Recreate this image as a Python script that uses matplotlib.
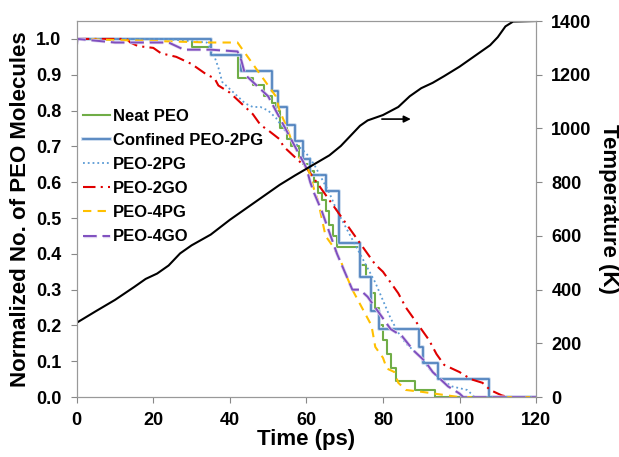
import matplotlib.pyplot as plt
import matplotlib.patheffects as pe

plt.rcParams['font.family'] = ['Liberation Sans', 'DejaVu Sans']
plt.rcParams['font.weight'] = 'bold'

# Neat PEO (step)
neat_t = [0, 30, 35, 42, 46, 49, 51, 52, 53, 55, 56, 58, 59, 61, 62, 63, 64, 65, 66, 67, 68,
          74, 75.5, 77, 78, 79, 80, 81, 82, 83.5, 88.5, 93.7, 120]
neat_y = [1.0, 0.978, 0.955, 0.89, 0.87, 0.84, 0.82, 0.80, 0.75, 0.72, 0.70, 0.67, 0.65, 0.63, 0.60,
          0.57, 0.55, 0.52, 0.48, 0.45, 0.42, 0.37, 0.335, 0.29, 0.25, 0.20, 0.16, 0.12, 0.08, 0.045,
          0.02, 0.0, 0.0]

# Confined PEO-2PG (step)
conf_t = [0, 35, 43, 51, 52.5, 55, 57, 59, 61, 65, 68.5, 74, 77, 79, 89.4, 90.5, 94.5, 107.6, 120]
conf_y = [1.0, 0.955, 0.91, 0.855, 0.81, 0.76, 0.715, 0.665, 0.62, 0.575, 0.43, 0.335, 0.24, 0.19,
          0.14, 0.095, 0.05, 0.0, 0.0]

# PEO-2PG
pg2_t = [0, 23, 34, 35, 36, 37, 38, 40, 42, 44, 46, 48, 50, 52, 54, 56, 58, 60, 62, 64, 66, 68, 70,
         72, 74, 76, 78, 80, 82, 84, 86, 88, 90, 92, 95, 98, 100, 102, 104, 120]
pg2_y = [1.0, 1.0, 0.99, 0.97, 0.95, 0.92, 0.88, 0.86, 0.84, 0.82, 0.81, 0.81, 0.80, 0.78, 0.75, 0.72,
         0.70, 0.68, 0.65, 0.61, 0.57, 0.52, 0.48, 0.44, 0.40, 0.36, 0.32, 0.27, 0.22, 0.18, 0.15, 0.13,
         0.11, 0.08, 0.05, 0.03, 0.025, 0.02, 0.0, 0.0]

# PEO-2GO
go2_t = [0, 13, 14, 16, 20, 22, 26, 28, 30, 32, 34, 36, 37, 40, 42, 44, 46, 48, 50, 53, 54, 56, 58,
         60, 62, 64, 66, 68, 70, 72, 74, 76, 78, 80, 82, 84, 86, 88, 90, 92, 94, 96, 100, 103, 106,
         108, 111, 113, 120]
go2_y = [1.0, 1.0, 0.99, 0.98, 0.975, 0.96, 0.95, 0.94, 0.93, 0.915, 0.90, 0.89, 0.87, 0.85, 0.83,
         0.81, 0.79, 0.76, 0.745, 0.72, 0.70, 0.68, 0.66, 0.64, 0.61, 0.58, 0.55, 0.52, 0.49, 0.46,
         0.43, 0.40, 0.37, 0.35, 0.32, 0.29, 0.25, 0.22, 0.19, 0.16, 0.12, 0.09, 0.07, 0.05, 0.04,
         0.02, 0.005, 0.0, 0.0]

# PEO-4PG
pg4_t = [0, 35, 42, 44, 46, 48, 50, 52, 53, 55, 56, 57, 58, 60, 61, 62, 63, 64, 65, 67, 69, 70, 72,
         74, 76, 77, 78, 80, 81, 83, 84, 86, 90, 100, 120]
pg4_y = [1.0, 0.99, 0.99, 0.96, 0.93, 0.90, 0.87, 0.84, 0.80, 0.75, 0.72, 0.70, 0.67, 0.65, 0.62,
         0.58, 0.55, 0.50, 0.45, 0.42, 0.38, 0.35, 0.30, 0.26, 0.22, 0.20, 0.14, 0.11, 0.08, 0.07,
         0.04, 0.02, 0.015, 0.0, 0.0]

# PEO-4GO
go4_t = [0, 0.2, 10, 24, 28, 35, 42, 43, 44, 46, 48, 50, 52, 54, 56, 58, 60, 61, 62, 64, 66, 68, 70,
         72, 74, 76, 78, 80, 82, 85, 88, 91, 93, 95, 97, 100, 101, 120]
go4_y = [0.985, 1.0, 0.99, 0.99, 0.97, 0.97, 0.965, 0.94, 0.90, 0.88, 0.86, 0.84, 0.80, 0.76, 0.72,
         0.68, 0.64, 0.60, 0.57, 0.52, 0.46, 0.40, 0.35, 0.30, 0.30, 0.28, 0.25, 0.22, 0.19, 0.17,
         0.13, 0.10, 0.07, 0.05, 0.03, 0.01, 0.0, 0.0]

# Temperature (right axis)
temp_t = [0, 5, 10, 15, 18, 21, 24, 27, 30, 35, 40, 45, 50, 53, 57, 60, 63, 66, 69, 72, 74, 76, 80,
          84, 87, 90, 93, 96, 100, 104, 108, 110, 112, 114, 120]
temp_K = [277, 320, 362, 410, 440, 460, 490, 535, 565, 605, 660, 710, 760, 790, 825, 850, 875, 900,
          935, 980, 1010, 1030, 1050, 1080, 1120, 1150, 1170, 1195, 1230, 1270, 1310, 1340, 1380,
          1398, 1400]

fig, ax = plt.subplots(figsize=(6.19, 4.57), dpi=100)
fig.subplots_adjust(left=0.124, right=0.866, bottom=0.131, top=0.954)

ax.plot(neat_t, neat_y, drawstyle='steps-post', color='#70AD47', lw=1.5, label='Neat PEO')
ax.plot(conf_t, conf_y, drawstyle='steps-post', color='#4A7EBB', lw=1.2, label='Confined PEO-2PG',
        path_effects=[pe.Stroke(linewidth=2.6, foreground='#C3D6EC'), pe.Normal()])
ax.plot(pg2_t, pg2_y, ':', color='#5B9BD5', lw=1.3, label='PEO-2PG')
ax.plot(go2_t, go2_y, color='#E00000', lw=1.5, dashes=(6, 2.5, 1, 2.5), label='PEO-2GO')
ax.plot(pg4_t, pg4_y, color='#FFC000', lw=1.5, dashes=(4, 3), label='PEO-4PG')
ax.plot(go4_t, go4_y, color='#7F4FBF', lw=1.4, dashes=(7, 3), label='PEO-4GO',
        path_effects=[pe.Stroke(linewidth=2.4, foreground='#E0D4F0'), pe.Normal()])

ax.set_xlim(0, 120)
ax.set_ylim(0, 1.05)
ax.set_xticks(range(0, 121, 20))
ax.set_yticks([i / 10 for i in range(11)])
ax.set_yticklabels([f'{i / 10:.1f}' for i in range(11)])
ax.set_xlabel('Time (ps)', fontsize=16, fontweight='bold', labelpad=0)
ax.set_ylabel('Normalized No. of PEO Molecules', fontsize=16, fontweight='bold', labelpad=4)
ax.tick_params(labelsize=13, color='#888888', length=4, pad=7)

ax2 = ax.twinx()
ax2.plot(temp_t, temp_K, color='black', lw=1.5)
ax2.set_ylim(0, 1400)
ax2.set_yticks(range(0, 1401, 200))
ax2.set_ylabel('Temperature (K)', fontsize=16, fontweight='bold', rotation=270, labelpad=20)
ax2.tick_params(labelsize=13, color='#888888', length=4, pad=7)
ax2.annotate('', xy=(88, 1035), xytext=(79, 1035),
             arrowprops=dict(arrowstyle='-|>', color='black', lw=1.2, mutation_scale=10))

for a in (ax, ax2):
    for s in a.spines.values():
        s.set_color('#999999')

ax.legend(loc='upper left', bbox_to_anchor=(0.0, 0.785), frameon=False, fontsize=12,
          handlelength=1.6, handletextpad=0.15, labelspacing=0.55, borderaxespad=0)

fig.savefig('out.png')
